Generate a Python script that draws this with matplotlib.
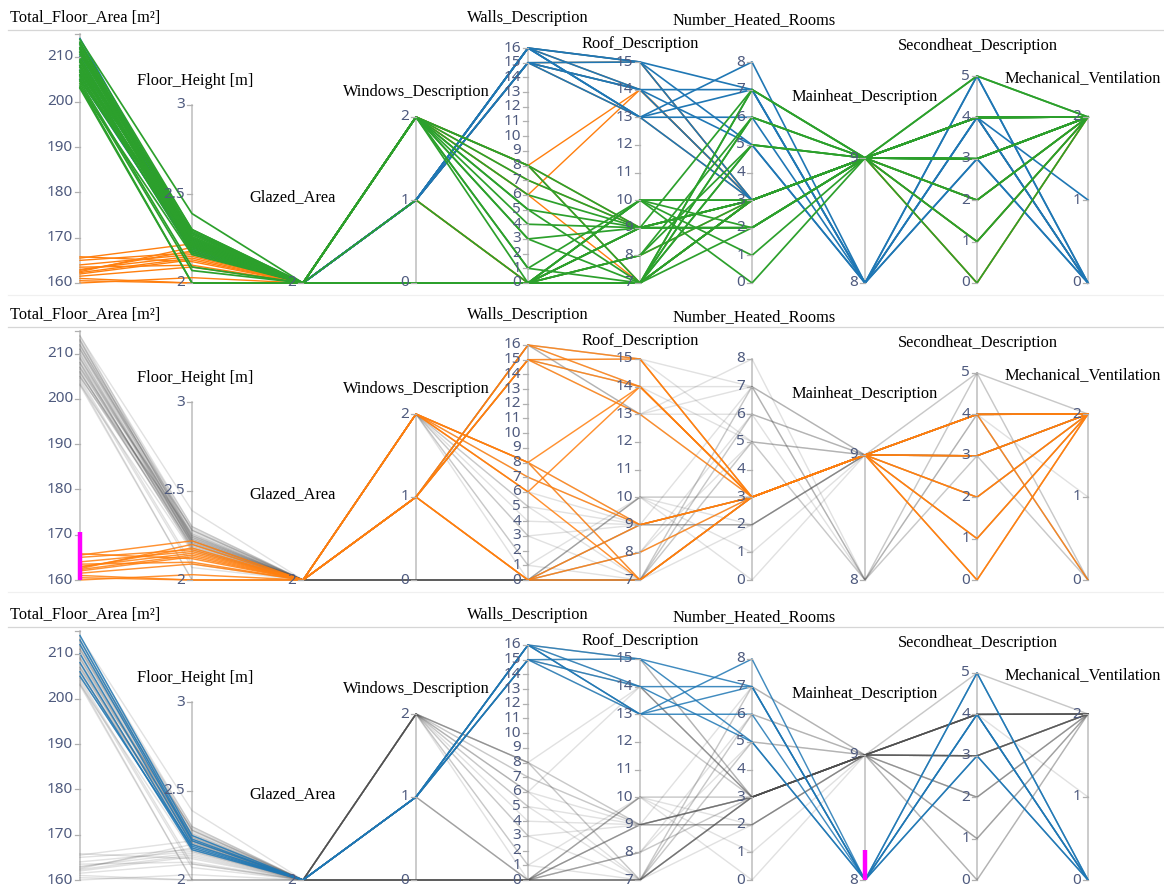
import matplotlib.pyplot as plt

# ---- records: 14 small dwellings, 10 "walls 15/16" dwellings, 30 large dwellings ----
group = [
    "orange", "orange", "orange", "orange", "orange", "orange", "orange",
    "orange", "orange", "orange", "orange", "orange", "orange", "orange",
    "blue", "blue", "blue", "blue", "blue", "blue", "blue", "blue", "blue", "blue",
    "green", "green", "green", "green", "green", "green", "green", "green", "green", "green",
    "green", "green", "green", "green", "green", "green", "green", "green", "green", "green",
    "green", "green", "green", "green", "green", "green", "green", "green", "green", "green",
]
floor_area = [
    165.5, 165.0, 163.0, 162.0, 161.5, 162.5, 160.5, 164.0, 162.3, 161.0, 165.8, 162.8, 163.5, 160.0,
    214.0, 212.0, 210.0, 208.0, 206.0, 205.0, 213.0, 211.0, 209.0, 207.0,
    213.8, 213.2, 212.6, 212.0, 211.5, 211.0, 210.4, 209.8, 209.3, 208.7,
    208.1, 207.6, 207.0, 206.5, 206.0, 205.5, 205.0, 204.5, 204.0, 203.5,
    212.9, 210.9, 209.0, 207.9, 206.8, 205.8, 204.8, 203.2, 211.8, 203.0,
]
floor_height = [
    2.22, 2.17, 2.15, 2.13, 2.09, 2.20, 2.00, 2.16, 2.14, 2.00, 2.12, 2.18, 2.10, 2.03,
    2.25, 2.22, 2.20, 2.18, 2.17, 2.19, 2.23, 2.28, 2.24, 2.21,
    2.39, 2.30, 2.28, 2.25, 2.22, 2.20, 2.27, 2.24, 2.23, 2.21,
    2.26, 2.19, 2.29, 2.22, 2.17, 2.25, 2.20, 2.09, 2.07, 2.00,
    2.24, 2.28, 2.22, 2.18, 2.23, 2.21, 2.26, 2.16, 2.30, 2.00,
]
glazed_area = [
    2, 2, 2, 2, 2, 2, 2, 2, 2, 2, 2, 2, 2, 2,
    2, 2, 2, 2, 2, 2, 2, 2, 2, 2,
    2, 2, 2, 2, 2, 2, 2, 2, 2, 2, 2, 2, 2, 2, 2, 2, 2, 2, 2, 2,
    2, 2, 2, 2, 2, 2, 2, 2, 2, 2,
]
windows = [
    1, 1, 1, 1, 1, 2, 2, 2, 2, 2, 1, 1, 1, 2,
    1, 1, 1, 1, 1, 1, 1, 1, 1, 1,
    2, 2, 2, 2, 2, 2, 2, 2, 2, 2, 2, 1, 0, 0, 0, 0, 0, 0, 0, 0,
    2, 0, 0, 0, 0, 0, 0, 0, 0, 0,
]
walls = [
    16, 15, 15, 16, 15, 8, 6, 8, 7, 6, 0, 0, 0, 8,
    16, 15, 16, 15, 15, 16, 16, 16, 15, 16,
    8, 7, 6, 5, 5, 4, 3, 3, 1, 8, 0, 0, 0, 0, 0, 0, 0, 0, 0, 0,
    1, 0, 0, 0, 0, 0, 0, 0, 0, 0,
]
roof = [
    15, 15, 14, 14, 13, 14, 14, 9, 9, 7, 9, 8, 7, 7,
    15, 13, 14, 14, 15, 13, 13, 15, 14, 13,
    9, 9, 9, 9, 7, 9, 9, 7, 10, 7, 9, 10, 10, 9, 8, 7, 7, 7, 7, 7,
    7, 8, 9, 10, 7, 8, 9, 7, 10, 7,
]
heated_rooms = [
    3, 3, 3, 3, 3, 3, 3, 3, 3, 3, 3, 3, 3, 3,
    7, 8, 7, 5, 5, 6, 7, 3, 3, 3,
    3, 2, 3, 7, 6, 2, 3, 5, 3, 7, 2, 1, 0, 3, 3, 7, 6, 5, 3, 2,
    3, 5, 3, 2, 3, 6, 2, 3, 3, 3,
]
mainheat = [
    9, 9, 9, 9, 9, 9, 9, 9, 9, 9, 9, 9, 9, 9,
    8, 8, 8, 8, 8, 8, 8, 9, 9, 9,
    9, 9, 9, 9, 9, 9, 9, 9, 9, 9, 9, 9, 9, 9, 9, 9, 9, 9, 9, 9,
    9, 9, 9, 9, 9, 9, 9, 9, 9, 9,
]
secondheat = [
    4, 3, 2, 1, 0, 4, 3, 4, 2, 1, 0, 4, 3, 4,
    5, 4, 4, 3, 5, 3, 4, 4, 3, 4,
    4, 3, 4, 5, 3, 2, 4, 1, 3, 0, 4, 3, 4, 3, 4, 2, 4, 3, 4, 5,
    4, 3, 4, 3, 1, 4, 3, 2, 4, 4,
]
ventilation = [
    2, 2, 2, 2, 2, 0, 2, 2, 2, 2, 2, 2, 2, 2,
    0, 0, 0, 0, 0, 0, 0, 1, 2, 2,
    2, 2, 2, 2, 2, 2, 2, 2, 2, 2, 2, 2, 2, 2, 2, 2, 2, 2, 2, 2,
    2, 2, 2, 2, 2, 2, 2, 2, 2, 2,
]
columns = [floor_area, floor_height, glazed_area, windows, walls, roof,
           heated_rooms, mainheat, secondheat, ventilation]

# brushed ranges of the two filtered views
area_brush = (160, 170.5)
mainheat_brush = (8, 8.24)

# ---- axis layout (panel pixels): title, x, domain, top of axis, ticks, title position ----
dims = [
    ("Total_Floor_Area [m²]", 80, (160, 215), 34, [160, 170, 180, 190, 200, 210], (10, 18, "left")),
    ("Floor_Height [m]", 192, (2, 3), 105, [2, 2.5, 3], (195, 81, "center")),
    ("Glazed_Area", 303, (2, 2), 283, [2], (293, 197, "center")),
    ("Windows_Description", 416, (0, 2), 117, [0, 1, 2], (416, 92, "center")),
    ("Walls_Description", 528, (0, 16), 48, list(range(0, 17)), (528, 18, "center")),
    ("Roof_Description", 640, (7, 15), 62, list(range(7, 16)), (640, 44, "center")),
    ("Number_Heated_Rooms", 752, (0, 8), 62, list(range(0, 9)), (754, 20, "center")),
    ("Mainheat_Description", 865, (8, 9), 158, [8, 9], (865, 97, "center")),
    ("Secondheat_Description", 977, (0, 5), 76, list(range(0, 6)), (978, 46, "center")),
    ("Mechanical_Ventilation", 1088, (0, 2), 117, [0, 1, 2], (1083, 78, "center")),
]
BASE = 283
W, H = 1164, 889
PANEL_H = 297
panel_tops = [0, 297, 597]

colors = {"green": "#2ca02c", "orange": "#ff7f0e", "blue": "#1f77b4"}
widths = {"orange": 1.0, "blue": 1.2, "green": 1.25}
grey = "#4d4d4d"
tick_color = "#4e5a7e"


def to_y(dim, value):
    lo, hi = dim[2]
    if hi == lo:
        return BASE
    return BASE - (value - lo) / (hi - lo) * (BASE - dim[3])


def record_path(i):
    xs = [d[1] for d in dims]
    ys = [to_y(d, col[i]) for d, col in zip(dims, columns)]
    return xs, ys


def draw_axes(ax):
    ax.plot([8, W], [30, 30], color="#d6d6d6", lw=0.9, zorder=1)
    ax.plot([8, W], [295, 295], color="#f0f0f0", lw=0.9, zorder=1)
    for dim in dims:
        name, x, (lo, hi), top, ticks, (tx, ty, ha) = dim
        if hi > lo:
            ax.plot([x, x], [BASE, top], color="#bdbdbd", lw=1.1, zorder=1)
        for t in ticks:
            y = to_y(dim, t)
            ax.plot([x - 5, x], [y, y], color="#b0b0b0", lw=0.9, zorder=5)
            ax.text(x - 7, y, f"{t:g}", ha="right", va="center", fontsize=11,
                    color=tick_color, family="Noto Sans", zorder=6)
        if name.startswith("Total"):
            ax.plot([x - 5, x], [top, top], color="#b0b0b0", lw=0.9, zorder=5)
        ax.text(tx, ty, name, ha=ha, va="center", fontsize=11.8,
                family="Liberation Serif", color="black", zorder=6)


def draw_panel(ax, mode):
    n = len(floor_area)
    if mode == "cluster":
        # later groups are painted over earlier ones
        for g in ["orange", "blue", "green"]:
            for i in range(n):
                if group[i] == g:
                    xs, ys = record_path(i)
                    ax.plot(xs, ys, color=colors[g], lw=widths[g], zorder=3)
        return
    if mode == "area":
        picked = [area_brush[0] <= floor_area[i] <= area_brush[1] for i in range(n)]
        hl = colors["orange"]
    else:
        picked = [mainheat_brush[0] <= mainheat[i] <= mainheat_brush[1] for i in range(n)]
        hl = colors["blue"]
    for i in range(n):
        if not picked[i]:
            xs, ys = record_path(i)
            ax.plot(xs, ys, color=grey, lw=1.0, alpha=0.17, zorder=2)
    for i in range(n):
        if picked[i]:
            xs, ys = record_path(i)
            ax.plot(xs, ys, color=hl, lw=1.05, alpha=0.85, zorder=3)
    # brush handle on the filtered axis
    if mode == "area":
        d = dims[0]
        ax.plot([d[1], d[1]], [to_y(d, area_brush[0]), to_y(d, area_brush[1])],
                color="#ff00ff", lw=3.2, solid_capstyle="butt", zorder=7)
    else:
        d = dims[7]
        ax.plot([d[1], d[1]], [to_y(d, mainheat_brush[0]), to_y(d, mainheat_brush[1])],
                color="#ff00ff", lw=3.2, solid_capstyle="butt", zorder=7)


fig = plt.figure(figsize=(W / 100, H / 100), dpi=100)
for top, mode in zip(panel_tops, ["cluster", "area", "mainheat"]):
    h = min(PANEL_H, H - top)
    ax = fig.add_axes([0, 1 - (top + h) / H, 1, h / H])
    ax.set_xlim(0, W)
    ax.set_ylim(h, 0)
    ax.axis("off")
    draw_panel(ax, mode)
    draw_axes(ax)

fig.savefig("out.png", dpi=100)
